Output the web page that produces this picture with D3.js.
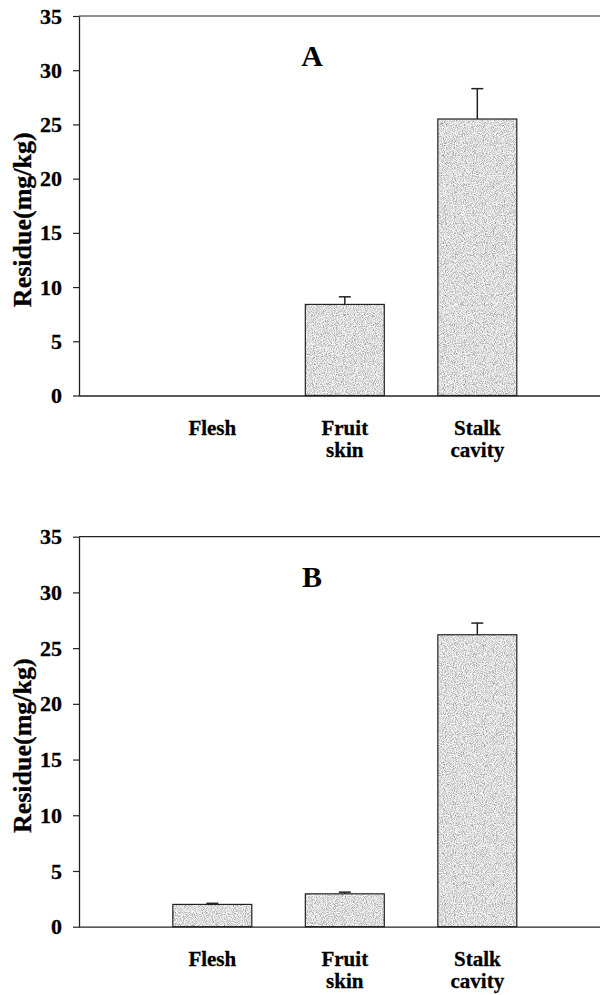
<!DOCTYPE html>
<html>
<head>
<meta charset="utf-8">
<script src="https://cdn.jsdelivr.net/npm/d3@7"></script>
<style>
  body { margin: 0; background: white; }
  text { font-family: "Liberation Serif", "Times New Roman", serif; font-weight: bold; }
</style>
</head>
<body>
<div id="chart"></div>
<script>
"use strict"

// categories and tick labels
let categories = ["Flesh", "Fruit skin", "Stalk cavity"];
let categoryLines = [["Flesh"], ["Fruit", "skin"], ["Stalk", "cavity"]];
let yTicks = [0, 5, 10, 15, 20, 25, 30, 35];

// panel A values (mg/kg) and error bars
let residueA = [0, 8.4, 25.5];
let errorA = [0, 0.7, 2.8];

// panel B values (mg/kg) and error bars
let residueB = [2.0, 2.95, 26.2];
let errorB = [0.1, 0.15, 1.05];

let panels = [
  { label: "A", values: residueA, errors: errorA, top: 16, bottom: 395.5 },
  { label: "B", values: residueB, errors: errorB, top: 536.7, bottom: 926.7 }
];

let width = 604, height = 995;
let axisX = 79, axisEnd = 600;

let svg = d3.select("#chart").append("svg")
  .attr("width", width)
  .attr("height", height)
  .style("background", "white");

// speckled grey fill, like the printed stipple
let defs = svg.append("defs");
let filt = defs.append("filter")
  .attr("id", "stipple")
  .attr("x", 0).attr("y", 0).attr("width", 1).attr("height", 1);
filt.append("feTurbulence")
  .attr("type", "fractalNoise")
  .attr("baseFrequency", 1.1)
  .attr("numOctaves", 1)
  .attr("seed", 3)
  .attr("result", "noise");
filt.append("feColorMatrix")
  .attr("in", "noise")
  .attr("type", "matrix")
  .attr("values", "1.5 0 0 0 -0.03  1.5 0 0 0 -0.03  1.5 0 0 0 -0.03  0 0 0 0 1")
  .attr("result", "grey");
filt.append("feComposite")
  .attr("in", "grey")
  .attr("in2", "SourceGraphic")
  .attr("operator", "in");

let x = d3.scaleBand()
  .domain(categories)
  .range([axisX, axisEnd])
  .paddingInner(0.404)
  .paddingOuter(0.668)
  .align(0.53);

panels.forEach(function(p) {
  let y = d3.scaleLinear()
    .domain([0, 35])
    .range([p.bottom, p.top]);

  let g = svg.append("g");

  // top frame line
  g.append("line")
    .attr("x1", axisX).attr("x2", axisEnd)
    .attr("y1", y(35)).attr("y2", y(35))
    .style("stroke", "#222").style("stroke-width", 1.2);

  let yAxis = g.append("g")
    .attr("transform", "translate(" + axisX + ",0)")
    .call(d3.axisLeft(y).tickValues(yTicks).tickSize(6).tickSizeOuter(0).tickPadding(11));
  yAxis.select(".domain").style("stroke", "#222").style("stroke-width", 1.3);
  yAxis.selectAll(".tick line").style("stroke", "#222").style("stroke-width", 1.2);
  yAxis.selectAll(".tick text")
    .style("font-size", "22px")
    .style("font-family", "Liberation Serif, serif")
    .style("font-weight", "bold")
    .style("stroke", "#000").style("stroke-width", 0.3)
    .attr("fill", "#000");

  let shown = categories.filter(function(d, i) { return p.values[i] > 0; });

  // bars
  g.selectAll(".barfill")
    .data(shown)
    .enter().append("rect")
    .attr("x", function(d) { return x(d); })
    .attr("y", function(d) { return y(p.values[categories.indexOf(d)]); })
    .attr("width", x.bandwidth())
    .attr("height", function(d) { return p.bottom - y(p.values[categories.indexOf(d)]); })
    .style("fill", "#bbb")
    .attr("filter", "url(#stipple)");

  g.selectAll(".barline")
    .data(shown)
    .enter().append("rect")
    .attr("x", function(d) { return x(d); })
    .attr("y", function(d) { return y(p.values[categories.indexOf(d)]); })
    .attr("width", x.bandwidth())
    .attr("height", function(d) { return p.bottom - y(p.values[categories.indexOf(d)]); })
    .style("fill", "none")
    .style("stroke", "#222")
    .style("stroke-width", 1.2);

  // error bars
  categories.forEach(function(c, i) {
    if (p.errors[i] <= 0 || p.values[i] <= 0) return;
    let cx = x(c) + x.bandwidth() / 2;
    g.append("line")
      .attr("x1", cx).attr("x2", cx)
      .attr("y1", y(p.values[i])).attr("y2", y(p.values[i] + p.errors[i]))
      .style("stroke", "#222").style("stroke-width", 1.5);
    g.append("line")
      .attr("x1", cx - 6).attr("x2", cx + 6)
      .attr("y1", y(p.values[i] + p.errors[i])).attr("y2", y(p.values[i] + p.errors[i]))
      .style("stroke", "#222").style("stroke-width", 1.5);
  });

  // x baseline
  g.append("line")
    .attr("x1", axisX).attr("x2", axisEnd)
    .attr("y1", p.bottom + 0.5).attr("y2", p.bottom + 0.5)
    .style("stroke", "#222").style("stroke-width", 1.3);

  // category labels
  categories.forEach(function(c, i) {
    let t = g.append("text")
      .attr("x", x(c) + x.bandwidth() / 2)
      .attr("y", p.bottom + 39)
      .attr("text-anchor", "middle")
      .style("font-size", "21px")
      .style("stroke", "#000").style("stroke-width", 0.3)
      .attr("fill", "#000");
    categoryLines[i].forEach(function(line, j) {
      t.append("tspan")
        .attr("x", x(c) + x.bandwidth() / 2)
        .attr("dy", j === 0 ? 0 : 22)
        .text(line);
    });
  });

  // panel letter
  g.append("text")
    .attr("x", 312)
    .attr("y", p.top + 50)
    .attr("text-anchor", "middle")
    .style("font-size", "30px")
    .attr("fill", "#000")
    .text(p.label);

  // y title
  g.append("text")
    .attr("transform", "translate(31," + ((p.top + p.bottom) / 2 + 14) + ") rotate(-90)")
    .attr("text-anchor", "middle")
    .style("font-size", "26px")
    .style("stroke", "#000").style("stroke-width", 0.3)
    .attr("fill", "#000")
    .text("Residue(mg/kg)");
});
</script>
</body>
</html>
